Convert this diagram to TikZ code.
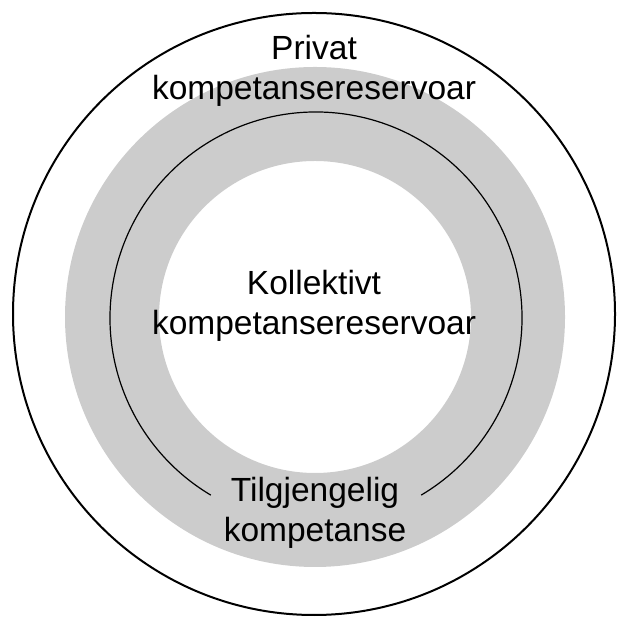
\documentclass[tikz,border=0pt]{standalone}
\usepackage{fontspec}
\setmainfont{Liberation Sans}
\begin{document}
\begin{tikzpicture}[x=1pt,y=1pt,
  ringfill/.style={fill=black!20, even odd rule},
  outerline/.style={draw=black, line width=2pt},
  innerline/.style={draw=black, line width=1.2pt},
  label/.style={align=center, inner sep=0pt, anchor=base,
    font=\fontsize{33.5}{40}\selectfont}]
  \useasboundingbox (0,0) rectangle (617,617);
  % grey band of available competence
  \path[ringfill] (315,300) circle (250) (315,300) circle (156);
  % outer boundary: private reservoir
  \draw[outerline] (314,303) circle (301);
  % collective reservoir boundary, open at the bottom for its label
  \draw[innerline] (316,299) ++(-59.3:206) arc (-59.3:239.3:206);
  % labels (anchored on the baseline of their last line)
  \node[label] (privat) at (314,517) {Privat\\kompetansereservoar};
  \node[label] (kollektiv) at (314,282) {Kollektivt\\kompetansereservoar};
  \node[label] (tilgjengelig) at (315,75) {Tilgjengelig\\kompetanse};
\end{tikzpicture}
\end{document}
